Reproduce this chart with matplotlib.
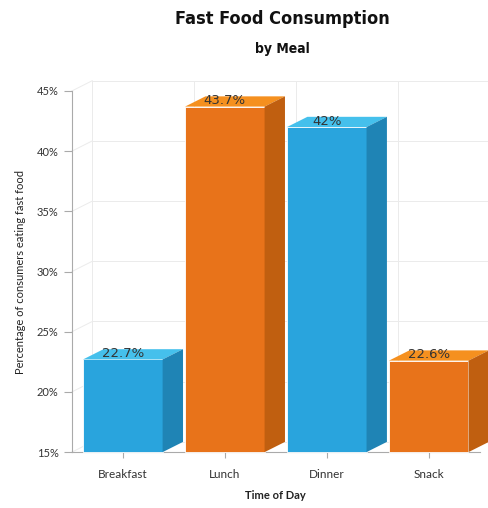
import matplotlib.pyplot as plt
from matplotlib.patches import Polygon

meals = ["Breakfast", "Lunch", "Dinner", "Snack"]
values = [22.7, 43.7, 42.0, 22.6]
labels = ["22.7%", "43.7%", "42%", "22.6%"]
yticks = [15, 20, 25, 30, 35, 40, 45]

plt.rcParams['font.family'] = ['Lato', 'DejaVu Sans']

blue = ("#29a4dd", "#45c0ec", "#1f84b5")    # front, top, side
orange = ("#e8731a", "#f5901f", "#c05f10")
colors = [blue, orange, blue, orange]

W = 0.39      # half bar width
DX = 0.2      # depth in x (category units)
DY = 0.85     # depth in y (percent)
YMIN = 15

fig = plt.figure(figsize=(4.89, 5.08), dpi=100)
ax = fig.add_axes([0.147, 0.110, 0.834, 0.711])
ax.set_xlim(-0.5, 3.5)
ax.set_ylim(YMIN, 45)

# back wall grid
grid_c = "#ebebeb"
for y in yticks:
    ax.plot([-0.5, -0.5 + DX], [y, y + DY], color=grid_c, lw=0.7, clip_on=False, zorder=0)
    ax.plot([-0.5 + DX, 3.5 + DX], [y + DY, y + DY], color=grid_c, lw=0.7, clip_on=False, zorder=0)
for x in [-0.5, 0.5, 1.5, 2.5, 3.5]:
    ax.plot([x + DX, x + DX], [YMIN + DY, 45 + DY], color=grid_c, lw=0.7, clip_on=False, zorder=0)

for i, (v, c) in enumerate(zip(values, colors)):
    x0, x1 = i - W, i + W
    front = Polygon([(x0, YMIN), (x1, YMIN), (x1, v), (x0, v)], closed=True,
                    facecolor=c[0], edgecolor='white', lw=0.6, zorder=3, clip_on=False)
    top = Polygon([(x0, v), (x1, v), (x1 + DX, v + DY), (x0 + DX, v + DY)], closed=True,
                  facecolor=c[1], edgecolor='none', zorder=3, clip_on=False)
    side = Polygon([(x1, YMIN), (x1 + DX, YMIN + DY), (x1 + DX, v + DY), (x1, v)], closed=True,
                   facecolor=c[2], edgecolor='none', zorder=3, clip_on=False)
    for p in (front, top, side):
        ax.add_patch(p)
    ax.text(i, v + DY * 0.55, labels[i], ha='center', va='center', fontsize=9.5,
            color='#333333', family=['DejaVu Sans'], zorder=5)

ax.set_xticks(range(len(meals)))
ax.set_xticklabels(meals, fontsize=8.5, color='#333333')
ax.set_yticks(yticks)
ax.set_yticklabels([f"{t}%" for t in yticks], fontsize=8, color='#333333')
for s in ['top', 'right']:
    ax.spines[s].set_visible(False)
ax.spines['left'].set_color('#aaaaaa')
ax.spines['bottom'].set_color('#aaaaaa')
ax.tick_params(axis='y', length=6, color='#aaaaaa')
ax.tick_params(axis='x', length=4, color='#aaaaaa', pad=8)
ax.set_xlabel("Time of Day", fontsize=8, fontweight='bold', color='#222222', labelpad=7)
ax.set_ylabel("Percentage of consumers eating fast food", fontsize=8, color='#222222', labelpad=8)

fig.text(0.578, 0.962, "Fast Food Consumption", ha='center', va='center', fontsize=13,
         fontweight='bold', fontstretch='condensed', family=['DejaVu Sans'], color='#111111')
fig.text(0.578, 0.903, "by Meal", ha='center', va='center', fontsize=10,
         fontweight='bold', fontstretch='condensed', family=['DejaVu Sans'], color='#111111')

fig.savefig("out.png", dpi=100)
